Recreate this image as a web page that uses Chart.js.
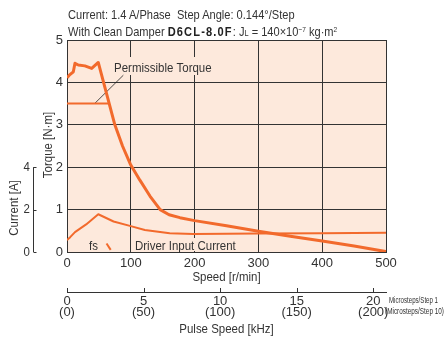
<!DOCTYPE html>
<html>
<head>
<meta charset="utf-8">
<script src="https://cdn.jsdelivr.net/npm/chart.js@4.4.1/dist/chart.umd.min.js"></script>
<style>
  html, body { margin: 0; padding: 0; background: #fff; }
  #wrap { position: relative; width: 444px; height: 344px; }
  #title {
    position: absolute; left: 68px; top: 7px;
    font-family: "Liberation Sans", Arial, sans-serif;
    font-size: 13.5px; line-height: 15px; color: #333; white-space: nowrap;
    transform: scaleX(0.82); transform-origin: 0 0;
  }
  #title b { font-size: 13.5px; letter-spacing: 1.4px; color: #222; }
  #title sup { font-size: 8px; vertical-align: 4px; }
  #title .sm { font-size: 9px; }
</style>
</head>
<body>
<div id="wrap">
  <canvas id="chart" width="444" height="344"></canvas>
  <div id="title">
    Current: 1.4 A/Phase&nbsp;&nbsp;Step Angle: 0.144°/Step<br>
    With Clean Damper <b>D6CL-8.0F</b>: J<span class="sm">L</span> = 140×10<sup>−7</sup> kg·m<sup>2</sup>
  </div>
</div>
<script>
// Pull-out torque [N·m] vs speed [r/min]
const torqueSpeed = [0, 3.6, 9.9, 12.5, 17.7, 28, 38.7, 49, 75, 87, 100, 114, 130, 146, 160, 177, 200, 250, 300, 350, 400, 450, 500];
const torqueValues = [4.11, 4.17, 4.25, 4.45, 4.41, 4.39, 4.33, 4.47, 3.0, 2.5, 2.05, 1.7, 1.32, 1.0, 0.88, 0.81, 0.74, 0.62, 0.49, 0.37, 0.26, 0.14, 0.01];

// Permissible torque
const permSpeed = [0, 64.7];
const permValues = [3.5, 3.5];

// Driver input current [A]
const currentSpeed = [0, 5, 12.5, 30, 49, 73, 100, 122, 161, 198, 250, 300, 400, 500];
const currentValues = [0.56, 0.7, 0.94, 1.3, 1.78, 1.44, 1.22, 1.04, 0.88, 0.85, 0.86, 0.87, 0.89, 0.91];

// fs marker
const fsSpeed = [62, 68.5];
const fsValues = [0.2, 0.05];

// leader line for the "Permissible Torque" label
const leaderSpeed = [43.9, 88.3];
const leaderValues = [3.51, 4.17];

const speedTicks = [0, 100, 200, 300, 400, 500];
const pulseTicks = [0, 5, 10, 15, 20];
const currentTicks = [0, 2, 4];

const FONT = '"Liberation Sans", Arial, sans-serif';
const ORANGE = '#f26a2c';
const PEACH = '#fde9dc';
const INK = '#333';
const SQUEEZE = 0.85; // the original uses a condensed face

function pts(xs, ys) { return xs.map((x, i) => ({ x: x, y: ys[i] })); }

// draw text squeezed horizontally, optionally rotated
function label(ctx, text, x, y, align, rot) {
    ctx.save();
    ctx.translate(x, y);
    if (rot) ctx.rotate(rot);
    ctx.scale(SQUEEZE, 1);
    ctx.textAlign = align;
    ctx.fillText(text, 0, 0);
    ctx.restore();
}

const extras = {
    id: 'extras',
    beforeDraw(chart) {
        const { ctx, chartArea: a } = chart;
        ctx.save();
        ctx.fillStyle = PEACH;
        ctx.fillRect(a.left, a.top, a.right - a.left, a.bottom - a.top);
        ctx.restore();
    },
    beforeDatasetsDraw(chart) {
        // label boxes hide the grid behind the curve labels
        const ctx = chart.ctx;
        ctx.save();
        ctx.fillStyle = PEACH;
        ctx.fillRect(112, 57, 96, 18);
        ctx.fillRect(133, 238, 100, 13);
        ctx.restore();
    },
    afterDraw(chart) {
        const ctx = chart.ctx;
        const x = chart.scales.x, x2 = chart.scales.x2, yA = chart.scales.yA;
        ctx.save();
        ctx.fillStyle = INK;
        ctx.strokeStyle = INK;
        ctx.lineWidth = 1;
        ctx.font = '13.5px ' + FONT;
        ctx.textBaseline = 'middle';

        // current axis (0-4 A)
        const cx = 33.5;
        ctx.beginPath();
        ctx.moveTo(cx, yA.getPixelForValue(4));
        ctx.lineTo(cx, yA.getPixelForValue(0));
        currentTicks.forEach(v => {
            const py = Math.round(yA.getPixelForValue(v)) + 0.5;
            ctx.moveTo(cx, py);
            ctx.lineTo(cx + 3, py);
        });
        ctx.stroke();
        currentTicks.forEach(v => label(ctx, String(v), 30, yA.getPixelForValue(v), 'right'));

        // pulse axis tick marks (upward)
        ctx.beginPath();
        pulseTicks.forEach(v => {
            const px = Math.round(x2.getPixelForValue(v)) + 0.5;
            ctx.moveTo(px, x2.top);
            ctx.lineTo(px, x2.top - 4);
        });
        ctx.stroke();

        // axis titles
        label(ctx, 'Torque [N·m]', 48, 145, 'center', -Math.PI / 2);
        label(ctx, 'Current [A]', 14, 208, 'center', -Math.PI / 2);
        label(ctx, 'Speed [r/min]', (x.left + x.right) / 2, 277, 'center');
        label(ctx, 'Pulse Speed [kHz]', (x.left + x.right) / 2, 329, 'center');

        // curve labels
        label(ctx, 'Permissible Torque', x.getPixelForValue(73.7), 68, 'left');
        label(ctx, 'fs', 89, 246, 'left');
        label(ctx, 'Driver Input Current', 135, 246, 'left');

        // microstep notes
        ctx.font = '9px ' + FONT;
        ctx.textAlign = 'left';
        ctx.fillText('Microsteps/Step 1', 389, 301, 49);
        ctx.fillText('(Microsteps/Step 10)', 385, 312, 59);
        ctx.restore();
    }
};

new Chart(document.getElementById('chart'), {
    type: 'line',
    data: {
        datasets: [
            {
                label: 'Pull-out Torque',
                data: pts(torqueSpeed, torqueValues),
                borderColor: ORANGE,
                borderWidth: 3,
                borderJoinStyle: 'round',
                pointRadius: 0,
                tension: 0,
                yAxisID: 'y'
            },
            {
                label: 'Permissible Torque',
                data: pts(permSpeed, permValues),
                borderColor: ORANGE,
                borderWidth: 2,
                pointRadius: 0,
                yAxisID: 'y'
            },
            {
                label: 'Driver Input Current',
                data: pts(currentSpeed, currentValues),
                borderColor: ORANGE,
                borderWidth: 2,
                borderJoinStyle: 'round',
                pointRadius: 0,
                tension: 0,
                yAxisID: 'yA'
            },
            {
                label: 'fs',
                data: pts(fsSpeed, fsValues),
                borderColor: ORANGE,
                borderWidth: 2,
                pointRadius: 0,
                yAxisID: 'y'
            },
            {
                label: 'leader',
                data: pts(leaderSpeed, leaderValues),
                borderColor: '#222',
                borderWidth: 0.8,
                pointRadius: 0,
                yAxisID: 'y'
            }
        ]
    },
    options: {
        responsive: false,
        animation: false,
        layout: { padding: { left: 0, right: 58, top: 40, bottom: 0 } },
        plugins: {
            legend: { display: false },
            tooltip: { enabled: false }
        },
        scales: {
            x: {
                type: 'linear',
                min: 0,
                max: 500,
                weight: 0,
                afterFit: s => { s.height = 40; },
                afterBuildTicks: s => { s.ticks = speedTicks.map(v => ({ value: v })); },
                grid: { color: INK, lineWidth: 1, drawTicks: false },
                border: { color: INK, width: 1 },
                ticks: { color: INK, font: { family: FONT, size: 13 }, padding: 4, maxRotation: 0 }
            },
            x2: {
                type: 'linear',
                position: 'bottom',
                min: 0,
                max: 500 / 24,
                weight: 1,
                afterFit: s => { s.height = 52; },
                afterBuildTicks: s => { s.ticks = pulseTicks.map(v => ({ value: v })); },
                grid: { drawOnChartArea: false, drawTicks: false },
                border: { display: true, color: INK, width: 1 },
                ticks: {
                    color: INK,
                    font: { family: FONT, size: 13, lineHeight: 0.85 },
                    padding: 4,
                    maxRotation: 0,
                    callback: v => [String(v), '(' + v * 10 + ')']
                }
            },
            y: {
                type: 'linear',
                min: 0,
                max: 5,
                afterFit: s => { s.width = 67; },
                ticks: { stepSize: 1, color: INK, font: { family: FONT, size: 13 }, padding: 4 },
                grid: { color: INK, lineWidth: 1, drawTicks: false },
                border: { color: INK, width: 1 }
            },
            yA: {
                type: 'linear',
                display: false,
                min: 0,
                max: 10
            }
        }
    },
    plugins: [extras]
});
</script>
</body>
</html>
